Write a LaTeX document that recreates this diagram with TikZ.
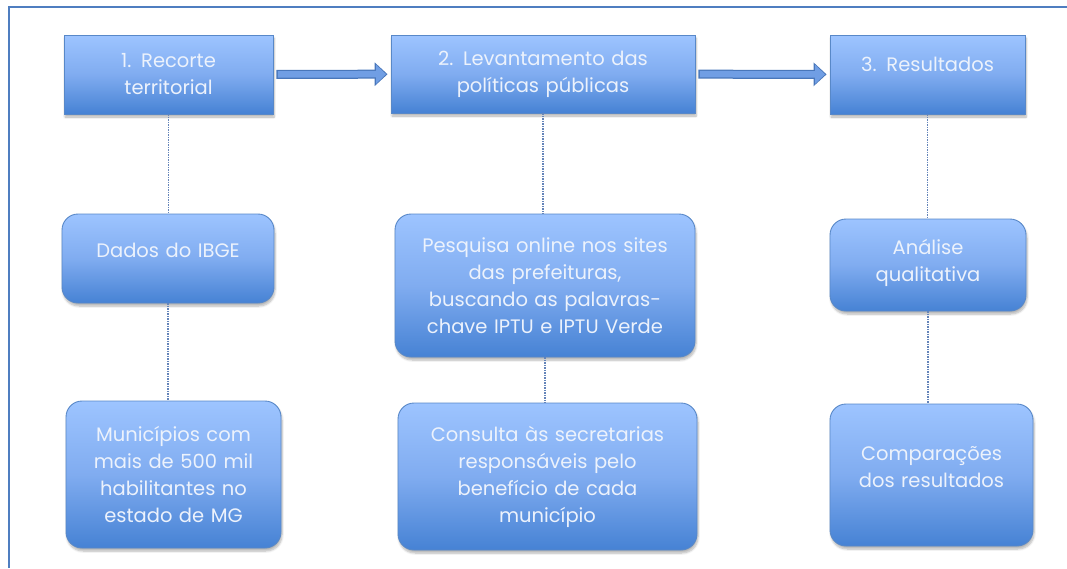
\documentclass[tikz,border=0pt]{standalone}
\usepackage{fontspec}
\setmainfont{Poppins}
\usetikzlibrary{shadows,shadows.blur,arrows.meta}
\definecolor{boxtop}{RGB}{157,196,255}
\definecolor{boxmid}{RGB}{128,172,240}
\definecolor{boxbot}{RGB}{70,130,212}
\definecolor{boxline}{RGB}{88,136,200}
\definecolor{txtc}{RGB}{236,242,252}
\definecolor{framec}{RGB}{79,126,192}
\definecolor{linkc}{RGB}{100,132,185}
\definecolor{flowc}{RGB}{112,158,228}
\definecolor{flowline}{RGB}{72,118,186}
\tikzset{
  stage/.style={draw=boxline, line width=0.9pt, top color=boxtop, bottom color=boxbot,
    middle color=boxmid, text=txtc, align=center, inner sep=0pt,
    font=\fontsize{19.5}{27}\selectfont,
    blur shadow={shadow xshift=1pt, shadow yshift=-3pt, shadow opacity=30, shadow blur steps=6}},
  task/.style={stage, rounded corners=16pt},
  box/.style n args={3}{minimum width=#1, minimum height=#2, text width=#3},
  link/.style={draw=linkc, line width=1.5pt, dash pattern=on 1.5pt off 1pt},
  flowout/.style={draw=flowline, line width=9pt, shorten <=3pt, shorten >=3pt,
    -{Triangle[length=13pt,width=23pt]}},
  flowin/.style={draw=flowc, line width=6.5pt, shorten <=4.5pt, shorten >=4.5pt,
    -{Triangle[length=10pt,width=18.5pt]}},
  frame/.style={draw=framec, line width=1.4pt}
}
\begin{document}
\begin{tikzpicture}[x=1pt,y=-1pt]
  \useasboundingbox (0,0) rectangle (1067,568);
  \draw[frame] (9,568) -- (9,7) -- (1067,7);
  \node[stage, box={209pt}{79pt}{192pt}] (recorte) at (168.5,74.5) {1. Recorte\\territorial};
  \node[stage, box={304pt}{78pt}{288pt}] (levantamento) at (543,74) {2. Levantamento das\\políticas públicas};
  \node[stage, box={195pt}{79pt}{180pt}, text height=0pt, text depth=7pt] (resultados) at (927.5,74.5) {3. Resultados};
  \node[task, box={212pt}{89pt}{196pt}, text height=0pt, text depth=3pt] (ibge) at (168,258.5) {Dados do IBGE};
  \node[task, box={300pt}{143pt}{284pt}] (pesquisa) at (545,285.5) {Pesquisa online nos sites\\das prefeituras,\\buscando as palavras-\\chave IPTU e IPTU Verde};
  \node[task, box={196pt}{92pt}{180pt}, text height=0pt, text depth=22pt] (analise) at (928,265) {Análise\\qualitativa};
  \node[task, box={215pt}{147pt}{199pt}] (municipios) at (173.5,474.5) {Municípios com\\mais de 500 mil\\habilitantes no\\estado de MG};
  \node[task, box={299pt}{147pt}{283pt}] (consulta) at (547.5,476.5) {Consulta às secretarias\\responsáveis pelo\\benefício de cada\\município};
  \node[task, box={203pt}{142pt}{187pt}, text height=0pt, text depth=30pt] (comparacoes) at (931.5,475) {Comparações\\dos resultados};
  \draw[flowout] (recorte) -- (levantamento);
  \draw[flowin] (recorte) -- (levantamento);
  \draw[flowout] (levantamento) -- (resultados);
  \draw[flowin] (levantamento) -- (resultados);
  \begin{scope}[link]
    \draw (recorte.south) -- (recorte.south |- ibge.north);
    \draw (levantamento.south) -- (levantamento.south |- pesquisa.north);
    \draw (resultados.south) -- (resultados.south |- analise.north);
    \draw (ibge.south) -- (ibge.south |- municipios.north);
    \draw (pesquisa.south) -- (pesquisa.south |- consulta.north);
    \draw (analise.south) -- (analise.south |- comparacoes.north);
  \end{scope}
\end{tikzpicture}
\end{document}
